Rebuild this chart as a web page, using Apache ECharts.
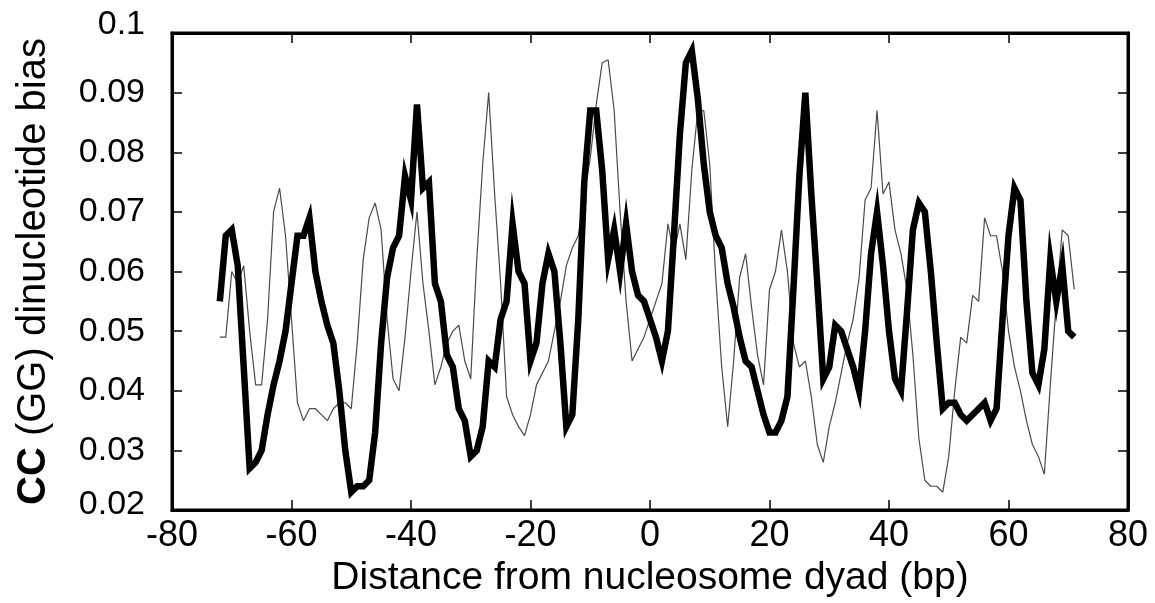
<!DOCTYPE html>
<html>
<head>
<meta charset="utf-8">
<script src="https://cdn.jsdelivr.net/npm/echarts@6/dist/echarts.min.js"></script>
<style>
  html, body { margin: 0; padding: 0; background: #fff; }
  #chart { width: 1155px; height: 603px; }
</style>
</head>
<body>
<div id="chart"></div>
<script>
// Distance from nucleosome dyad (bp)
const positions = [];
for (let p = -72; p <= 71; p++) positions.push(p);

// Thick black series (-72 .. 71)
const thickValues = [
  0.055, 0.066, 0.067, 0.061, 0.044, 0.027, 0.028, 0.030, 0.036, 0.041,
  0.045, 0.050, 0.058, 0.066, 0.066, 0.069, 0.060, 0.055, 0.051, 0.048,
  0.040, 0.030, 0.023, 0.024, 0.024, 0.025, 0.033, 0.048, 0.059, 0.064,
  0.066, 0.076, 0.072, 0.088, 0.074, 0.075, 0.058, 0.055, 0.046, 0.044,
  0.037, 0.035, 0.029, 0.030, 0.034, 0.045, 0.044, 0.052, 0.055, 0.068,
  0.060, 0.058, 0.045, 0.048, 0.058, 0.063, 0.060, 0.048, 0.034, 0.036,
  0.052, 0.075, 0.087, 0.087, 0.077, 0.062, 0.067, 0.060, 0.068, 0.060,
  0.056, 0.055, 0.052, 0.049, 0.045, 0.050, 0.066, 0.083, 0.095, 0.097,
  0.089, 0.078, 0.070, 0.066, 0.064, 0.058, 0.054, 0.049, 0.045, 0.044,
  0.040, 0.036, 0.033, 0.033, 0.035, 0.039, 0.057, 0.076, 0.090, 0.073,
  0.058, 0.042, 0.044, 0.051, 0.050, 0.047, 0.044, 0.040, 0.050, 0.063,
  0.070, 0.061, 0.050, 0.042, 0.040, 0.053, 0.067, 0.0715, 0.070, 0.060,
  0.048, 0.037, 0.038, 0.038, 0.036, 0.035, 0.036, 0.037, 0.038, 0.035,
  0.037, 0.052, 0.066, 0.074, 0.072, 0.055, 0.043, 0.041, 0.047, 0.062,
  0.055, 0.061, 0.050, 0.049
];

// Thin grey series (-72 .. 71)
const thinValues = [
  0.049, 0.049, 0.060, 0.058, 0.061, 0.050, 0.041, 0.041, 0.052, 0.070,
  0.074, 0.066, 0.052, 0.038, 0.035, 0.037, 0.037, 0.036, 0.035, 0.037,
  0.038, 0.038, 0.037, 0.048, 0.062, 0.069, 0.0715, 0.067, 0.052, 0.042,
  0.040, 0.049, 0.060, 0.070, 0.058, 0.050, 0.041, 0.044, 0.048, 0.050,
  0.051, 0.045, 0.042, 0.062, 0.078, 0.090, 0.073, 0.058, 0.039, 0.036,
  0.034, 0.0325, 0.036, 0.041, 0.043, 0.045, 0.050, 0.055, 0.061, 0.064,
  0.066, 0.073, 0.079, 0.088, 0.095, 0.0955, 0.087, 0.070, 0.055, 0.045,
  0.047, 0.049, 0.052, 0.055, 0.058, 0.068, 0.063, 0.068, 0.062, 0.077,
  0.087, 0.087, 0.078, 0.059, 0.044, 0.034, 0.045, 0.059, 0.063, 0.054,
  0.046, 0.041, 0.057, 0.060, 0.067, 0.060, 0.048, 0.044, 0.045, 0.039,
  0.031, 0.028, 0.034, 0.038, 0.043, 0.048, 0.052, 0.059, 0.072, 0.074,
  0.087, 0.073, 0.075, 0.067, 0.063, 0.057, 0.046, 0.032, 0.025, 0.024,
  0.024, 0.023, 0.029, 0.040, 0.049, 0.048, 0.056, 0.055, 0.069, 0.066,
  0.066, 0.060, 0.050, 0.044, 0.040, 0.035, 0.031, 0.029, 0.026, 0.041,
  0.055, 0.067, 0.066, 0.057
];

const xTicks = [-80, -60, -40, -20, 0, 20, 40, 60, 80];
const yTicks = [0.02, 0.03, 0.04, 0.05, 0.06, 0.07, 0.08, 0.09, 0.1];

const thickData = positions.map((p, i) => [p, thickValues[i]]);
const thinData = positions.map((p, i) => [p, thinValues[i]]);

const chart = echarts.init(document.getElementById('chart'), null, { renderer: 'canvas' });
const FONT = '"Liberation Sans", Arial, Helvetica, sans-serif';

function frameAxis(extra) {
  return Object.assign({
    type: 'value',
    axisLine: { show: true, onZero: false, lineStyle: { color: '#000', width: 3 } },
    axisTick: { show: true, inside: true, length: 10, lineStyle: { color: '#000', width: 1.5 } },
    splitLine: { show: false }
  }, extra);
}

const option = {
  animation: false,
  backgroundColor: '#fff',
  grid: {
    left: 172, right: 27, top: 33, bottom: 90,
    show: true, borderColor: '#000', borderWidth: 3, backgroundColor: 'transparent'
  },
  xAxis: [
    frameAxis({
      min: xTicks[0], max: xTicks[xTicks.length - 1], interval: 20, position: 'bottom',
      axisLabel: { color: '#000', fontSize: 36, fontFamily: FONT, margin: 8 },
      name: 'Distance from nucleosome dyad (bp)',
      nameLocation: 'middle', nameGap: 43,
      nameTextStyle: { color: '#000', fontSize: 39, fontFamily: FONT }
    }),
    frameAxis({
      min: xTicks[0], max: xTicks[xTicks.length - 1], interval: 20, position: 'top',
      axisLabel: { show: false }
    })
  ],
  yAxis: [
    frameAxis({
      min: yTicks[0], max: yTicks[yTicks.length - 1], interval: 0.01, position: 'left',
      axisLabel: {
        color: '#000', fontSize: 34, fontFamily: FONT, margin: 27,
        formatter: function (v) {
          const s = String(+v.toFixed(2));
          if (Math.abs(v - 0.1) < 1e-9) return '{top|' + s + '}';
          if (Math.abs(v - 0.02) < 1e-9) return '{bot|' + s + '}';
          return s;
        },
        rich: {
          top: { fontSize: 34, fontFamily: FONT, color: '#000', padding: [0, 0, 16, 0] },
          bot: { fontSize: 34, fontFamily: FONT, color: '#000', padding: [0, 0, 10, 0] }
        }
      },
      name: '{b|CC} (GG) dinucleotide bias',
      nameLocation: 'middle', nameGap: 118, nameRotate: 90,
      nameTextStyle: {
        color: '#000', fontSize: 40, fontFamily: FONT,
        rich: { b: { fontSize: 40, fontFamily: FONT, fontWeight: 'bold', color: '#000' } }
      }
    }),
    frameAxis({
      min: yTicks[0], max: yTicks[yTicks.length - 1], interval: 0.01, position: 'right',
      axisLabel: { show: false }
    })
  ],
  series: [{
    name: 'thin', type: 'line', data: thinData, xAxisIndex: 0, yAxisIndex: 0,
    showSymbol: false, symbol: 'none',
    lineStyle: { color: '#4a4a4a', width: 1.2 }, z: 2
  }, {
    name: 'thick', type: 'line', data: thickData, xAxisIndex: 0, yAxisIndex: 0,
    showSymbol: false, symbol: 'none',
    lineStyle: { color: '#000', width: 6.5, join: 'miter' }, z: 3
  }]
};
chart.setOption(option);
</script>
</body>
</html>
